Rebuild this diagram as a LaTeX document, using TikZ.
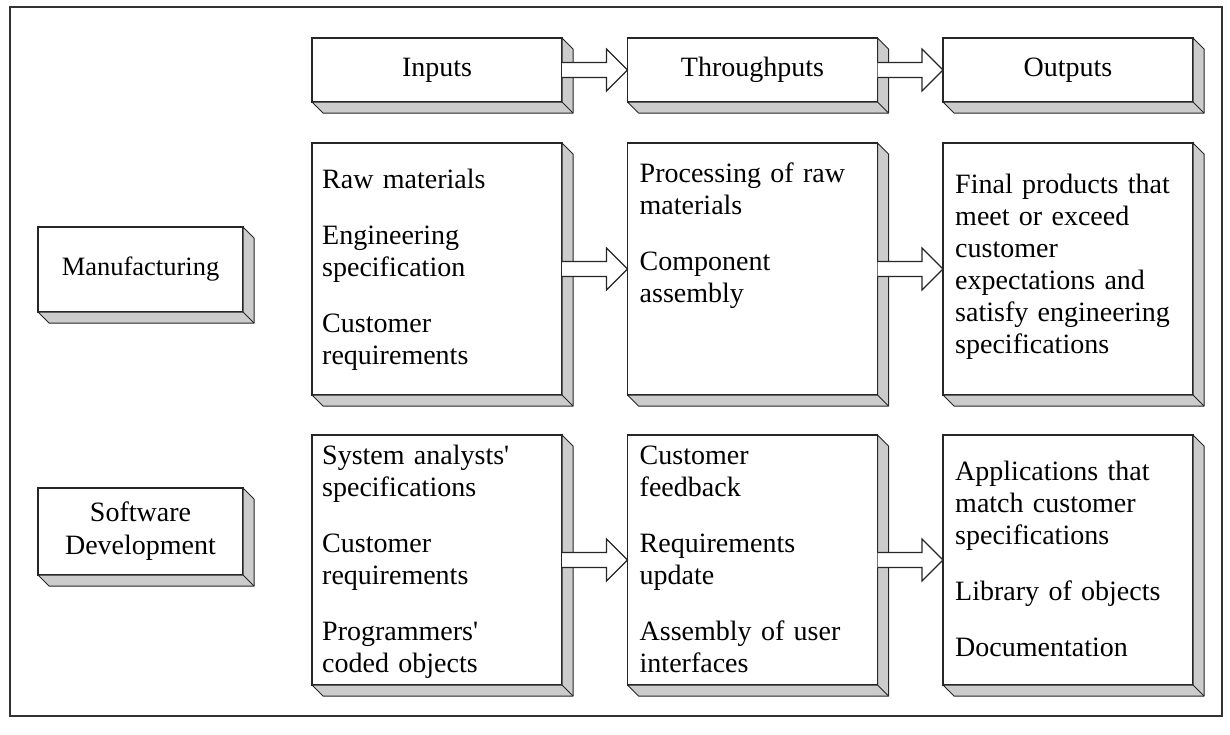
\documentclass[tikz,border=0pt]{standalone}
\usepackage{fontspec}
\setmainfont{Liberation Serif}
\usepackage{tikz}
\usetikzlibrary{positioning}
\tikzstyle{slab} = [rectangle, minimum width=250pt, inner sep=0pt, outer sep=0pt, align=center, draw=black!85, line width=1.2pt, fill=white, font=\fontsize{28}{33}\selectfont]
\tikzstyle{item} = [anchor=base west, text width=236pt, align=left, inner sep=0pt, font=\fontsize{28}{32}\selectfont]
\tikzstyle{face} = [fill=black!20, draw=black!85, line width=1pt, line join=round]
\newcommand{\slabside}[1]{%
  \filldraw[face] (#1.north east) -- ([xshift=11pt,yshift=-11pt]#1.north east) -- ([xshift=11pt,yshift=-11pt]#1.south east) -- ([xshift=11pt,yshift=-11pt]#1.south west) -- (#1.south west) -- (#1.south east) -- cycle;
  \draw[face] (#1.south east) -- ([xshift=11pt,yshift=-11pt]#1.south east);}
\newcommand{\fatarrow}[2]{%
  \filldraw[fill=white, draw=black!85, line width=1.2pt, line join=miter] ([yshift=7.5pt]#1.east) -- ([xshift=-21pt,yshift=7.5pt]#2.west) -- ([xshift=-21pt,yshift=21pt]#2.west) -- (#2.west) -- ([xshift=-21pt,yshift=-21pt]#2.west) -- ([xshift=-21pt,yshift=-7.5pt]#2.west) -- ([yshift=-7.5pt]#1.east);}

\begin{document}
\begin{tikzpicture}[x=1pt, y=-1pt, node distance=315.5pt]
        \useasboundingbox (0,0) rectangle (1230,734);
        \draw[line width=1.5pt, black!80] (10,7) rectangle (1222,716);

        % header row
        \node (inhead) [slab, minimum height=64pt] at (437,70) {Inputs};
        \node (thhead) [slab, minimum height=64pt, right of=inhead] {Throughputs};
        \node (outhead) [slab, minimum height=64pt, right of=thhead] {Outputs};

        % manufacturing row
        \node (mfglabel) [slab, minimum width=205pt, minimum height=85pt, font=\fontsize{26.5}{30}\selectfont] at (140.5,269.5) {Manufacturing};
        \node (mfgin) [slab, minimum height=252pt] at (437,269) {};
        \node (mfgthru) [slab, minimum height=252pt, right of=mfgin] {};
        \node (mfgout) [slab, minimum height=252pt, right of=mfgthru] {};

        % software row
        \node (swlabel) [slab, minimum width=205pt, minimum height=87pt] at (140.5,531.5) {Software\\Development};
        \node (swin) [slab, minimum height=250pt] at (437,560) {};
        \node (swthru) [slab, minimum height=250pt, right of=swin] {};
        \node (swout) [slab, minimum height=250pt, right of=swthru] {};

        \foreach \n in {inhead, thhead, outhead, mfglabel, mfgin, mfgthru, mfgout, swlabel, swin, swthru, swout}
            \slabside{\n};

        \node (mfgintext) [item] at ([xshift=10pt,yshift=-45pt]mfgin.north west) {Raw materials\\[24pt] Engineering\\ specification\\[24pt] Customer\\ requirements};
        \node (mfgthrutext) [item] at ([xshift=12pt,yshift=-39pt]mfgthru.north west) {Processing of raw\\ materials\\[24pt] Component\\ assembly};
        \node (mfgouttext) [item] at ([xshift=12pt,yshift=-50pt]mfgout.north west) {Final products that\\ meet or exceed\\ customer\\ expectations and\\ satisfy engineering\\ specifications};
        \node (swintext) [item] at ([xshift=10pt,yshift=-29pt]swin.north west) {System analysts\textquotesingle\\ specifications\\[24pt] Customer\\ requirements\\[24pt] Programmers\textquotesingle\\ coded objects};
        \node (swthrutext) [item] at ([xshift=12pt,yshift=-29pt]swthru.north west) {Customer\\ feedback\\[24pt] Requirements\\ update\\[24pt] Assembly of user\\ interfaces};
        \node (swouttext) [item] at ([xshift=12pt,yshift=-45pt]swout.north west) {Applications that\\ match customer\\ specifications\\[24pt] Library of objects\\[24pt] Documentation};

        \foreach \a/\b in {inhead/thhead, thhead/outhead, mfgin/mfgthru, mfgthru/mfgout, swin/swthru, swthru/swout}
            \fatarrow{\a}{\b};
    \end{tikzpicture}
\end{document}
